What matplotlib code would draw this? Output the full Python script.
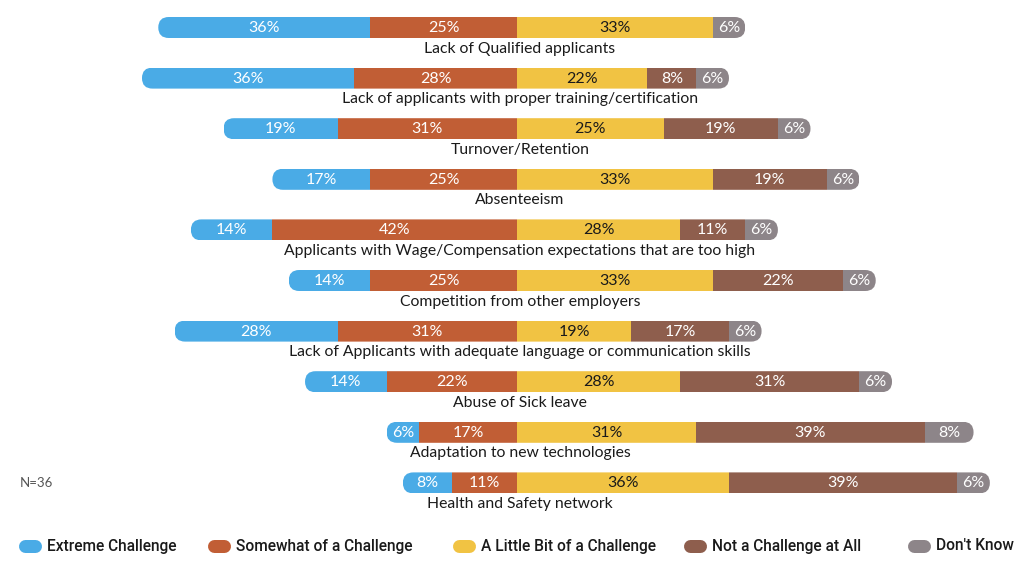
import numpy as np
import matplotlib.pyplot as plt
from matplotlib.patches import FancyBboxPatch

categories = ["Lack of Qualified applicants",
              "Lack of applicants with proper training/certification",
              "Turnover/Retention",
              "Absenteeism",
              "Applicants with Wage/Compensation expectations that are too high",
              "Competition from other employers",
              "Lack of Applicants with adequate language or communication skills",
              "Abuse of Sick leave",
              "Adaptation to new technologies",
              "Health and Safety network"]
# responses out of N=36
n_resp = 36
extreme = [13, 13, 7, 6, 5, 5, 10, 5, 2, 3]
somewhat = [9, 10, 11, 9, 15, 9, 11, 8, 6, 4]
little = [12, 8, 9, 12, 10, 12, 7, 10, 11, 13]
not_at_all = [0, 3, 7, 7, 4, 8, 6, 11, 14, 14]
dont_know = [2, 2, 2, 2, 2, 2, 2, 2, 3, 2]

series_names = ["Extreme Challenge", "Somewhat of a Challenge", "A Little Bit of a Challenge",
                "Not a Challenge at All", "Don't Know"]
colors = ["#4AABE6", "#C15E35", "#F1C343", "#8E5E4D", "#8D8589"]
text_colors = ["white", "white", "#1a1a1a", "white", "white"]

W, H = 1024, 562
fig = plt.figure(figsize=(W / 100, H / 100), dpi=100)
ax = fig.add_axes([0, 0, 1, 1])
ax.axis("off")

pxx = 5.87          # pixels per percent
zero = 517          # pixel position of 0
row0, rowstep = 27.5, 50.6
ax.set_xlim(-zero / pxx, (W - zero) / pxx)
ax.set_ylim((H - row0) / rowstep, -row0 / rowstep)

bh = 21 / rowstep
asp = pxx / rowstep
rad = 10.5 / pxx

font = "Lato"

for i, cat in enumerate(categories):
    counts = [extreme[i], somewhat[i], little[i], not_at_all[i], dont_know[i]]
    vals = [c / n_resp * 100 for c in counts]
    left = -(vals[0] + vals[1])
    total = sum(vals)
    clip = FancyBboxPatch((left, i - bh / 2), total, bh,
                          boxstyle=f"round,pad=0,rounding_size={rad}",
                          mutation_aspect=asp, transform=ax.transData)
    x = left
    for k, v in enumerate(vals):
        if v == 0:
            continue
        b = ax.barh(i, v, left=x, height=bh, color=colors[k], linewidth=0)
        for p in b:
            p.set_clip_path(clip)
        t = ax.text(x + v / 2, i + 0.01, f"{round(v)}%", ha="center", va="center",
                    color=text_colors[k], fontsize=11.5, family=font)
        t.set_clip_path(clip)
        x += v
    ax.text(0.5, i + 21 / rowstep, cat, ha="center", va="center",
            fontsize=11.3, family=font, color="#1a1a1a")

ax.text(20 / pxx - zero / pxx, 9, f"N={n_resp}", ha="left", va="center",
        fontsize=9.5, family=font, color="#555555")

# legend (pill markers)
leg_x = [18, 207, 452, 683, 907]
leg_y = 1 - 546 / H
for k, name in enumerate(series_names):
    ax.plot([(leg_x[k] + 6.5) / W, (leg_x[k] + 16.5) / W], [leg_y, leg_y],
            transform=ax.transAxes, color=colors[k], linewidth=13 * 0.72,
            solid_capstyle="round", clip_on=False)
    ax.text((leg_x[k] + 29) / W, leg_y, name, transform=ax.transAxes,
            ha="left", va="center", fontsize=11.2, family="Roboto",
            fontweight="medium", color="#1a1a1a")

fig.savefig("out.png", dpi=100)
